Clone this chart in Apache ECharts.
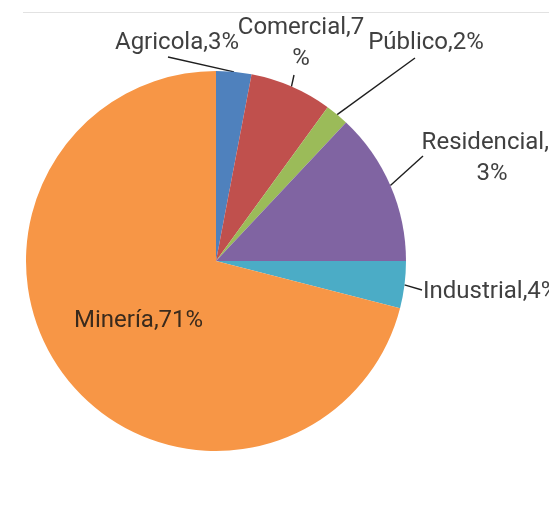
<!DOCTYPE html>
<html>
<head>
<meta charset="utf-8">
<script src="https://cdn.jsdelivr.net/npm/echarts@6/dist/echarts.min.js"></script>
<style>
  html, body { margin: 0; padding: 0; background: #ffffff; }
  #chart { width: 549px; height: 505px; }
</style>
</head>
<body>
<div id="chart"></div>
<script>
// Energy consumption share by sector (%)
const sectors = ['Agricola', 'Comercial', 'Público', 'Residencial', 'Industrial', 'Minería'];
const shares = [3, 7, 2, 13, 4, 71];
const sectorColors = ['#4F81BD', '#C0504D', '#9BBB59', '#8064A2', '#4BACC6', '#F79646'];

// Placement of each outside label and the end of its leader line
const labelSpots = {
  'Agricola':    { x: 177, y: 43,  align: 'center', wrap: 200, lineEnd: [168, 57] },
  'Comercial':   { x: 301, y: 43,  align: 'center', wrap: 134, lineEnd: [294, 75] },
  'Público':     { x: 426, y: 43,  align: 'center', wrap: 200, lineEnd: [415, 58] },
  'Residencial': { x: 492, y: 158, align: 'center', wrap: 146, lineEnd: [423, 156] },
  'Industrial':  { x: 423, y: 292, align: 'left',   wrap: 300, lineEnd: [422, 290] }
};

const chart = echarts.init(document.getElementById('chart'), null, { renderer: 'canvas' });

const pieData = sectors.map((name, i) => {
  const item = {
    name: name,
    value: shares[i],
    itemStyle: { color: sectorColors[i] }
  };
  const spot = labelSpots[name];
  if (spot) {
    item.label = { width: spot.wrap, overflow: 'breakAll' };
  } else {
    item.label = { position: 'inside', color: '#3a2a1c', width: 300, overflow: 'none' };
    item.labelLine = { show: false };
  }
  return item;
});

chart.setOption({
  animation: false,
  backgroundColor: '#ffffff',
  graphic: [{
    type: 'line',
    shape: { x1: 23, y1: 12.5, x2: 549, y2: 12.5 },
    style: { stroke: '#e2e2e2', lineWidth: 1 },
    silent: true
  }],
  series: [{
    type: 'pie',
    center: [216, 261],
    radius: 190,
    startAngle: 90,
    clockwise: true,
    avoidLabelOverlap: false,
    data: pieData,
    itemStyle: { borderWidth: 0 },
    label: {
      show: true,
      position: 'outside',
      formatter: (p) => p.name + ',' + p.value + '%',
      fontFamily: 'Roboto',
      fontSize: 24,
      lineHeight: 31,
      color: '#404040',
      align: 'center'
    },
    labelLine: {
      show: true,
      length: 0,
      length2: 0,
      lineStyle: { color: '#1e1e1e', width: 1.4 }
    },
    labelLayout: function (params) {
      const spot = labelSpots[sectors[params.dataIndex]];
      if (!spot) return {};
      const out = {
        x: spot.x,
        y: spot.y,
        align: spot.align,
        verticalAlign: 'middle'
      };
      if (params.labelLinePoints && params.labelLinePoints.length) {
        const start = params.labelLinePoints[0];
        out.labelLinePoints = [start, start, spot.lineEnd];
      }
      return out;
    }
  }]
});
</script>
</body>
</html>
